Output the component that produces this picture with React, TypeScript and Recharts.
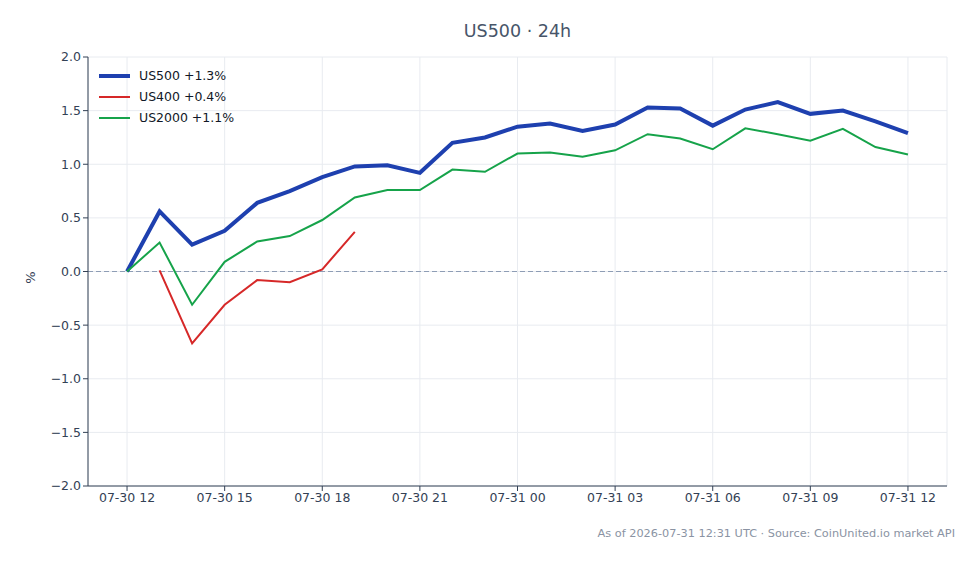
import {
  CartesianGrid,
  Line,
  LineChart,
  ReferenceLine,
  XAxis,
  YAxis,
} from "recharts";

// hourly buckets over the last 24h
const hours = [
  "07-30 12", "07-30 13", "07-30 14", "07-30 15", "07-30 16", "07-30 17",
  "07-30 18", "07-30 19", "07-30 20", "07-30 21", "07-30 22", "07-30 23",
  "07-31 00", "07-31 01", "07-31 02", "07-31 03", "07-31 04", "07-31 05",
  "07-31 06", "07-31 07", "07-31 08", "07-31 09", "07-31 10", "07-31 11",
  "07-31 12",
];

// % change since the first bucket
const us500 = [
  0, 0.56, 0.25, 0.38, 0.64, 0.75, 0.88, 0.98, 0.99, 0.92, 1.2, 1.25, 1.35,
  1.38, 1.31, 1.37, 1.53, 1.52, 1.36, 1.51, 1.58, 1.47, 1.5, 1.4, 1.29,
];
const us400: (number | null)[] = [
  null, 0.01, -0.67, -0.31, -0.08, -0.1, 0.02, 0.37, null, null, null, null,
  null, null, null, null, null, null, null, null, null, null, null, null, null,
];
const us2000 = [
  0, 0.27, -0.31, 0.09, 0.28, 0.33, 0.48, 0.69, 0.76, 0.76, 0.95, 0.93, 1.1,
  1.11, 1.07, 1.13, 1.28, 1.24, 1.14, 1.335, 1.28, 1.22, 1.33, 1.16, 1.09,
];

const xTicks = [0, 3, 6, 9, 12, 15, 18, 21, 24];
const yTicks = [-2, -1.5, -1, -0.5, 0, 0.5, 1, 1.5, 2];

const series = [
  { key: "us500", label: "US500 +1.3%", color: "#1e40af", width: 4 },
  { key: "us400", label: "US400 +0.4%", color: "#d62828", width: 2 },
  { key: "us2000", label: "US2000 +1.1%", color: "#16a34a", width: 2 },
];

const data = hours.map((label, i) => ({
  h: i,
  label,
  us500: us500[i],
  us400: us400[i],
  us2000: us2000[i],
}));

const FONT = "'DejaVu Sans', sans-serif";
const AXIS = "#334155";

const fmtY = (v: number) => v.toFixed(1).replace("-", "\u2212");

function LegendBox() {
  return (
    <div
      style={{
        position: "absolute",
        left: 99,
        top: 65,
        fontSize: 12.5,
        color: "#111827",
      }}
    >
      {series.map((s) => (
        <div
          key={s.key}
          style={{ display: "flex", alignItems: "center", height: 21 }}
        >
          <span
            style={{
              display: "inline-block",
              width: 31,
              height: s.width,
              background: s.color,
              marginRight: 9,
            }}
          />
          {s.label}
        </div>
      ))}
    </div>
  );
}

export default function App() {
  return (
    <div
      style={{
        position: "absolute",
        left: 0,
        top: 0,
        width: 979,
        height: 564,
        background: "#fff",
        fontFamily: FONT,
      }}
    >
      <div
        style={{
          position: "absolute",
          top: 21,
          left: 88,
          width: 859,
          textAlign: "center",
          fontSize: 17.5,
          color: "#475569",
        }}
      >
        US500 · 24h
      </div>
      <LineChart
        width={979}
        height={564}
        data={data}
        margin={{ top: 57, right: 32, bottom: 48, left: 38 }}
      >
        <CartesianGrid stroke="#e8ebf0" />
        <XAxis
          dataKey="h"
          type="number"
          domain={[-1.2, 25.2]}
          ticks={xTicks}
          tickFormatter={(v: number) => hours[v]}
          tick={{ fontSize: 12.5, fill: AXIS, fontFamily: FONT }}
          axisLine={{ stroke: AXIS }}
          tickLine={{ stroke: AXIS }}
          tickSize={5}
          height={30}
        />
        <YAxis
          type="number"
          domain={[-2, 2]}
          ticks={yTicks}
          tickFormatter={fmtY}
          tick={{ fontSize: 12.5, fill: AXIS, fontFamily: FONT }}
          axisLine={{ stroke: AXIS }}
          tickLine={{ stroke: AXIS }}
          tickSize={5}
          width={50}
          label={{
            value: "%",
            angle: -90,
            position: "left",
            offset: 8,
            style: { fontSize: 13, fill: AXIS, fontFamily: FONT },
          }}
        />
        <ReferenceLine y={0} stroke="#8e9db5" strokeDasharray="5 3" />
        {series.map((s) => (
          <Line
            key={s.key}
            dataKey={s.key}
            stroke={s.color}
            strokeWidth={s.width}
            dot={false}
            activeDot={false}
            connectNulls={false}
            isAnimationActive={false}
          />
        ))}
      </LineChart>
      <LegendBox />
      <div
        style={{
          position: "absolute",
          right: 24,
          top: 527,
          fontSize: 11.3,
          color: "#8a93a3",
          whiteSpace: "nowrap",
        }}
      >
        As of 2026-07-31 12:31 UTC · Source: CoinUnited.io market API
      </div>
    </div>
  );
}
